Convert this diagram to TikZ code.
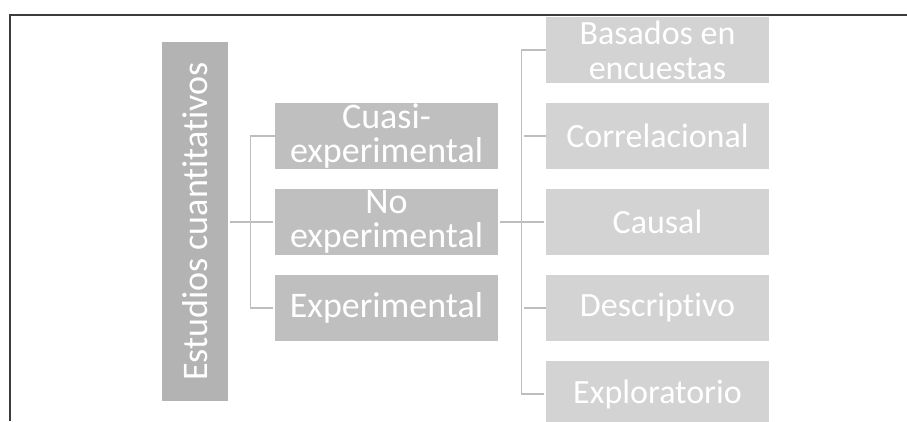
\documentclass[tikz,border=0pt]{standalone}
\usepackage{fontspec}
\setmainfont{Carlito}[Ligatures=NoCommon]
\usetikzlibrary{positioning}

\definecolor{rootgray}{RGB}{179,179,179}
\definecolor{midgray}{RGB}{191,191,191}
\definecolor{leafgray}{RGB}{211,211,211}
\definecolor{linkgray}{RGB}{190,190,190}
\definecolor{framegray}{RGB}{60,60,60}

\begin{document}
\begin{tikzpicture}[x=1pt,y=-1pt,
    box/.style={draw=none, text=white, inner sep=0pt, align=center,
        minimum width=223pt, minimum height=66pt,
        font=\fontsize{36}{34}\selectfont},
    rootbox/.style={box, fill=rootgray, rotate=90, minimum width=359pt},
    midbox/.style={box, fill=midgray},
    leafbox/.style={box, fill=leafgray, font=\fontsize{34}{35}\selectfont},
    link/.style={draw=linkgray, line width=1.3pt, shorten >=2pt, shorten <=2pt}]

    \useasboundingbox (0,0) rectangle (907,421);

    % root
    \node[rootbox] (estudios) at (195,221.5) {Estudios cuantitativos};

    % middle
    \node[midbox] (cuasi) at (386.5,136) {Cuasi-\\experimental};
    \node[midbox] (noexp) at (386.5,222) {No\\experimental};
    \node[midbox] (exper) at (386.5,308) {Experimental};

    % leaves
    \node[leafbox] (basados) at (657.5,50) {Basados en\\encuestas};
    \node[leafbox] (correl) at (657.5,136) {Correlacional};
    \node[leafbox] (causal) at (657.5,222) {Causal};
    \node[leafbox] (descrip) at (657.5,308) {Descriptivo};
    \node[leafbox] (explor) at (657.5,394) {Exploratorio};

    % links root -> middle
    \draw[link] (estudios.south |- noexp.west) -- (noexp.west);
    \draw[link, shorten <=0pt] (cuasi.west) -- ++(-24,0) |- (exper.west);

    % links middle -> leaves
    \draw[link] (noexp.east) -- (causal.west);
    \draw[link, shorten <=0pt] (basados.west) -- ++(-24,0) |- (explor.west);
    \draw[link, shorten <=0pt] (correl.west) -- ++(-24,0);
    \draw[link, shorten <=0pt] (descrip.west) -- ++(-24,0);

    % frame
    \draw[framegray, line width=1.5pt] (10,421) -- (10,15) -- (907,15);

\end{tikzpicture}
\end{document}
